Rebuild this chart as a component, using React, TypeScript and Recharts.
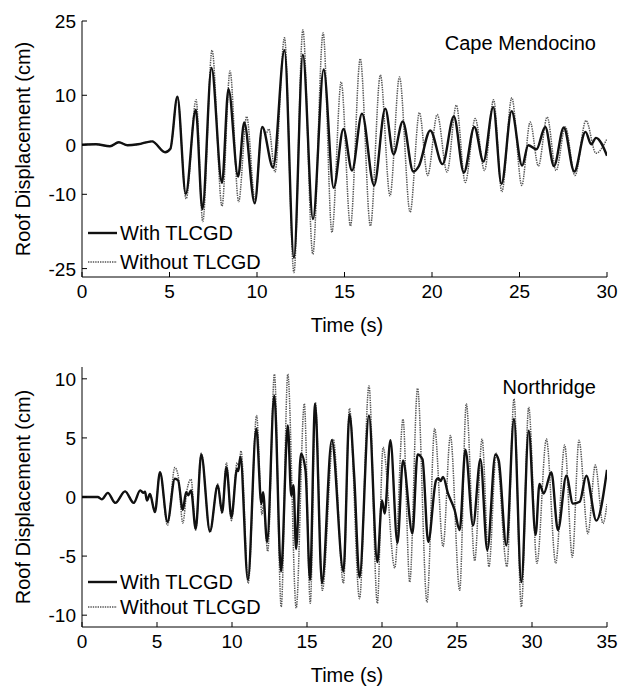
import { LineChart, Line, XAxis, YAxis } from 'recharts';

// [time (s), roof displacement (cm)]
type Pt = [number, number];

const FONT = '"Liberation Sans", Arial, Helvetica, sans-serif';

const capeTicksX = [0, 5, 10, 15, 20, 25, 30];
const capeTicksY = [-25, -10, 0, 10, 25];
const northTicksX = [0, 5, 10, 15, 20, 25, 30, 35];
const northTicksY = [-10, -5, 0, 5, 10];

const capeWith: Pt[] = [
  [0, 0], [0.8, 0.1], [1.6, -0.3], [2.1, 0.5], [2.6, -0.1], [3.2, 0.1], [4.0, 0.7],
  [4.75, -1.5], [5.05, -0.8], [5.45, 9.7], [5.93, -9.9], [6.5, 7.1], [6.88, -13],
  [7.4, 15.5], [8.0, -7.7], [8.37, 11.3], [8.92, -6.4], [9.27, 4.5], [9.87, -11.8],
  [10.3, 3.6], [10.92, -4.6], [11.57, 19.1], [12.11, -22.8], [12.62, 18.2], [13.2, -15],
  [13.81, 15.2], [14.38, -8.7], [14.94, 3.2], [15.43, -5.2], [16.0, 6.3], [16.69, -8.2],
  [17.33, 7.3], [17.8, -1.9], [18.33, 4.7], [18.93, -5.4], [19.25, -4.3], [19.9, 2.9],
  [20.6, -3.9], [21.25, 5.7], [21.82, -5.6], [22.42, 3.6], [22.94, -3.4], [23.5, 7.6],
  [23.97, -7.9], [24.55, 6.8], [25.15, -4.2], [25.5, -0.1], [25.97, -0.9], [26.47, 3.6],
  [26.97, -4.3], [27.53, 3.5], [28.13, -5.4], [28.77, 2.6], [29.1, 0.1], [29.37, 1.4],
  [30, -2.2],
];

const capeWithout: Pt[] = [
  [0, 0], [0.8, 0.1], [1.6, -0.3], [2.1, 0.5], [2.6, -0.1], [3.2, 0.1], [4.0, 0.7],
  [4.75, -1.5], [5.05, -0.8], [5.45, 9.7], [5.95, -10.9], [6.52, 9.1], [6.9, -15.5],
  [7.43, 19.1], [8.0, -12.4], [8.46, 14.9], [8.95, -11.5], [9.41, 5.7], [9.89, -11.3],
  [10.3, 3.6], [10.5, 2.2], [10.68, 3.2], [11.03, -5.5], [11.57, 21.6], [12.11, -25.8],
  [12.62, 23.2], [13.19, -22.1], [13.78, 22.6], [14.28, -17.7], [14.81, 12.7],
  [15.34, -16.4], [15.9, 17.4], [16.48, -16.4], [17.05, 14.1], [17.6, -10.3],
  [18.14, 13.7], [18.75, -13.6], [19.28, 6.5], [19.75, -6.2], [20.3, 6.1], [20.86, -5.5],
  [21.39, 8.0], [21.9, -7.6], [22.47, 5.3], [23.0, -5.2], [23.52, 9.1], [23.99, -9.5],
  [24.56, 9.5], [25.13, -8.2], [25.61, 4.6], [26.08, -4.3], [26.58, 5.6], [27.09, -5.2],
  [27.62, 3.6], [28.17, -6.2], [28.8, 4.9], [29.37, -1.7], [30, 1.2],
];

const northWith: Pt[] = [
  [0, 0], [1.05, 0], [1.32, -0.2], [1.72, 0.35], [2.22, -0.5], [2.87, 0.48], [3.45, -0.5],
  [3.88, 0.56], [4.1, 0.35], [4.2, 0.45], [4.33, -0.3], [4.53, 0.25], [4.86, -1.27],
  [5.2, 2.1], [5.7, -2.1], [6.19, 1.55], [6.41, 1.4], [6.72, -1.1], [6.94, 0.4],
  [7.08, 0.15], [7.27, 0.56], [7.58, -2.7], [7.95, 3.6], [8.53, -2.9], [9.05, 1.0],
  [9.34, -1.27], [9.63, 2.5], [9.96, -1.7], [10.34, 2.4], [10.42, 2.2], [10.56, 3.4],
  [11.06, -7.0], [11.62, 5.8], [11.96, -0.6], [12.07, 0.4], [12.34, -3.8], [12.82, 8.6],
  [13.27, -6.3], [13.72, 6.06], [13.95, 0.1], [14.1, 1.0], [14.27, -4.4], [14.6, 3.66],
  [14.9, 2.25], [15.2, -7.0], [15.54, 7.9], [16.0, -7.3], [16.65, 4.8], [17.43, -6.3],
  [17.83, 7.0], [18.15, 1.7], [18.5, -6.8], [19.13, 6.9], [19.69, -5.5], [20.0, -0.3],
  [20.18, -1.4], [20.56, 4.8], [21.03, -3.9], [21.4, 3.1], [22.03, -3.1], [22.37, 3.6],
  [22.7, 3.2], [23.08, -3.8], [23.6, 1.4], [23.75, 1.6], [23.9, 1.35], [24.07, 1.7],
  [24.4, 0.3], [24.84, -1.1], [25.18, -2.8], [25.56, 4.0], [26.07, -2.4], [26.56, 3.2],
  [27.02, -4.5], [27.56, 3.6], [27.78, 3.1], [28.29, -4.1], [28.8, 6.6], [29.29, -7.2],
  [29.78, 5.6], [30.24, -3.2], [30.5, 1.1], [30.78, 0.3], [31.29, 2.1], [31.73, -2.8],
  [32.29, 1.8], [32.73, -0.56], [33.18, -0.4], [33.62, 1.8], [34.29, -2.0], [35, 2.3],
];

const northWithout: Pt[] = [
  [0, 0], [1.05, 0], [1.32, -0.2], [1.72, 0.35], [2.22, -0.5], [2.87, 0.48], [3.45, -0.5],
  [3.88, 0.56], [4.1, 0.35], [4.2, 0.45], [4.33, -0.3], [4.53, 0.25], [4.86, -1.3],
  [5.2, 2.1], [5.7, -2.4], [6.19, 2.5], [6.41, 1.8], [6.72, -2.2], [7.0, 0.6],
  [7.27, 1.5], [7.58, -2.8], [7.95, 3.7], [8.53, -3.0], [9.05, 1.1], [9.34, -1.4],
  [9.63, 2.9], [9.96, -2.0], [10.34, 2.9], [10.45, 2.6], [10.6, 3.9], [11.08, -7.3],
  [11.64, 6.9], [12.0, -1.5], [12.1, -0.6], [12.38, -4.6], [12.83, 10.4], [13.28, -9.3],
  [13.72, 10.4], [14.28, -9.4], [14.82, 7.9], [15.22, -9.0], [15.56, 8.0], [16.02, -7.9],
  [16.75, 4.9], [17.43, -7.3], [17.83, 7.5], [18.5, -8.6], [19.13, 9.4], [19.69, -9.0],
  [20.07, 4.2], [20.85, -6.0], [21.4, 6.6], [21.85, -7.2], [22.37, 9.2], [23.0, -8.9],
  [23.51, 5.8], [24.07, -4.2], [24.56, 5.2], [25.18, -7.9], [25.62, 7.9], [26.18, -5.4],
  [26.67, 4.9], [27.13, -5.9], [27.62, 3.7], [28.33, -5.9], [28.8, 8.3], [29.29, -9.3],
  [29.78, 7.6], [30.33, -5.6], [30.96, 4.9], [31.58, -5.6], [32.18, 4.4], [32.69, -5.1],
  [33.13, 4.8], [33.73, -3.1], [34.22, 2.7], [34.73, -2.25], [35, -0.6],
];

const toRows = (pts: Pt[]) => pts.map(([t, d]) => ({ t, d }));

const W = 629;
const PLOT_LEFT = 82;
const PLOT_RIGHT = 607;
const TICK_LEN = 5;

const SOLID = { stroke: '#111', strokeWidth: 2.4 };
const DOTTED = { stroke: '#555', strokeWidth: 1.5, strokeDasharray: '1.4 1' };

// eslint-disable-next-line @typescript-eslint/no-explicit-any
const BottomTick = (props: any) => {
  const { x, y, payload } = props;
  return (
    <g>
      <line x1={x} x2={x} y1={y} y2={y - TICK_LEN} stroke="#000" />
      <text x={x} y={y + 21} textAnchor="middle" fontSize={19} fontFamily={FONT} fill="#000">
        {payload.value}
      </text>
    </g>
  );
};

// eslint-disable-next-line @typescript-eslint/no-explicit-any
const TopTick = (props: any) => {
  const { x, y } = props;
  return <line x1={x} x2={x} y1={y} y2={y + TICK_LEN} stroke="#000" />;
};

// eslint-disable-next-line @typescript-eslint/no-explicit-any
const LeftTick = (props: any) => {
  const { x, y, payload } = props;
  return (
    <g>
      <line x1={x} x2={x + TICK_LEN} y1={y} y2={y} stroke="#000" />
      <text x={x - 6} y={y + 7} textAnchor="end" fontSize={19} fontFamily={FONT} fill="#000">
        {payload.value}
      </text>
    </g>
  );
};

// eslint-disable-next-line @typescript-eslint/no-explicit-any
const RightTick = (props: any) => {
  const { x, y } = props;
  return <line x1={x} x2={x - TICK_LEN} y1={y} y2={y} stroke="#000" />;
};

interface PanelProps {
  top: number;
  height: number;
  plotTop: number;
  plotBottom: number;
  xMax: number;
  yDomain: [number, number];
  xTicks: number[];
  yTicks: number[];
  withData: Pt[];
  withoutData: Pt[];
}

function Panel({ top, height, plotTop, plotBottom, xMax, yDomain, xTicks, yTicks, withData, withoutData }: PanelProps) {
  const axisLine = { stroke: '#000', strokeWidth: 1 };
  return (
    <div style={{ position: 'absolute', left: 0, top }}>
      <LineChart
        width={W}
        height={height}
        margin={{ top: plotTop, right: W - PLOT_RIGHT, left: 0, bottom: height - plotBottom - 30 }}
      >
        <XAxis
          xAxisId="b"
          type="number"
          dataKey="t"
          domain={[0, xMax]}
          ticks={xTicks}
          interval={0}
          allowDataOverflow
          height={30}
          tickSize={0}
          tickMargin={0}
          tickLine={false}
          axisLine={axisLine}
          tick={BottomTick}
        />
        <XAxis
          xAxisId="t"
          orientation="top"
          type="number"
          dataKey="t"
          domain={[0, xMax]}
          ticks={xTicks}
          interval={0}
          allowDataOverflow
          height={0}
          tickSize={0}
          tickMargin={0}
          tickLine={false}
          axisLine={axisLine}
          tick={TopTick}
        />
        <YAxis
          yAxisId="l"
          type="number"
          domain={yDomain}
          ticks={yTicks}
          interval={0}
          allowDataOverflow
          width={PLOT_LEFT}
          tickSize={0}
          tickMargin={0}
          tickLine={false}
          axisLine={axisLine}
          tick={LeftTick}
        />
        <YAxis
          yAxisId="r"
          orientation="right"
          type="number"
          domain={yDomain}
          ticks={yTicks}
          interval={0}
          allowDataOverflow
          width={0}
          tickSize={0}
          tickMargin={0}
          tickLine={false}
          axisLine={axisLine}
          tick={RightTick}
        />
        <Line
          xAxisId="b"
          yAxisId="l"
          data={toRows(withoutData)}
          dataKey="d"
          name="Without TLCGD"
          type="monotone"
          {...DOTTED}
          dot={false}
          isAnimationActive={false}
        />
        <Line
          xAxisId="b"
          yAxisId="l"
          data={toRows(withData)}
          dataKey="d"
          name="With TLCGD"
          type="monotone"
          {...SOLID}
          dot={false}
          isAnimationActive={false}
        />
      </LineChart>
    </div>
  );
}

function LegendBlock({ y1, y2 }: { y1: number; y2: number }) {
  return (
    <g fontFamily={FONT} fontSize={20} fill="#000">
      <line x1={88} x2={117} y1={y1} y2={y1} {...SOLID} />
      <text x={120} y={y1 + 7}>With TLCGD</text>
      <line x1={88} x2={117} y1={y2} y2={y2} {...DOTTED} />
      <text x={120} y={y2 + 7}>Without TLCGD</text>
    </g>
  );
}

export default function App() {
  return (
    <div style={{ position: 'absolute', left: 0, top: 0, width: W, height: 687, background: '#fff' }}>
      <Panel
        top={0}
        height={340}
        plotTop={21}
        plotBottom={277}
        xMax={30}
        yDomain={[-26.7, 25]}
        xTicks={capeTicksX}
        yTicks={capeTicksY}
        withData={capeWith}
        withoutData={capeWithout}
      />
      <Panel
        top={340}
        height={347}
        plotTop={27}
        plotBottom={287}
        xMax={35}
        yDomain={[-11, 11]}
        xTicks={northTicksX}
        yTicks={northTicksY}
        withData={northWith}
        withoutData={northWithout}
      />
      <svg
        width={W}
        height={687}
        style={{ position: 'absolute', left: 0, top: 0, pointerEvents: 'none' }}
      >
        <g fontFamily={FONT} fontSize={20} fill="#000">
          <text x={596} y={50} textAnchor="end">Cape Mendocino</text>
          <text x={596} y={394} textAnchor="end">Northridge</text>
          <text x={347} y={332} textAnchor="middle">Time (s)</text>
          <text x={347} y={682} textAnchor="middle">Time (s)</text>
          <text
            x={23}
            y={149}
            textAnchor="middle"
            dominantBaseline="central"
            transform="rotate(-90 23 149)"
          >
            Roof Displacement (cm)
          </text>
          <text
            x={23}
            y={497}
            textAnchor="middle"
            dominantBaseline="central"
            transform="rotate(-90 23 497)"
          >
            Roof Displacement (cm)
          </text>
        </g>
        <LegendBlock y1={233} y2={262} />
        <LegendBlock y1={582} y2={607} />
      </svg>
    </div>
  );
}
